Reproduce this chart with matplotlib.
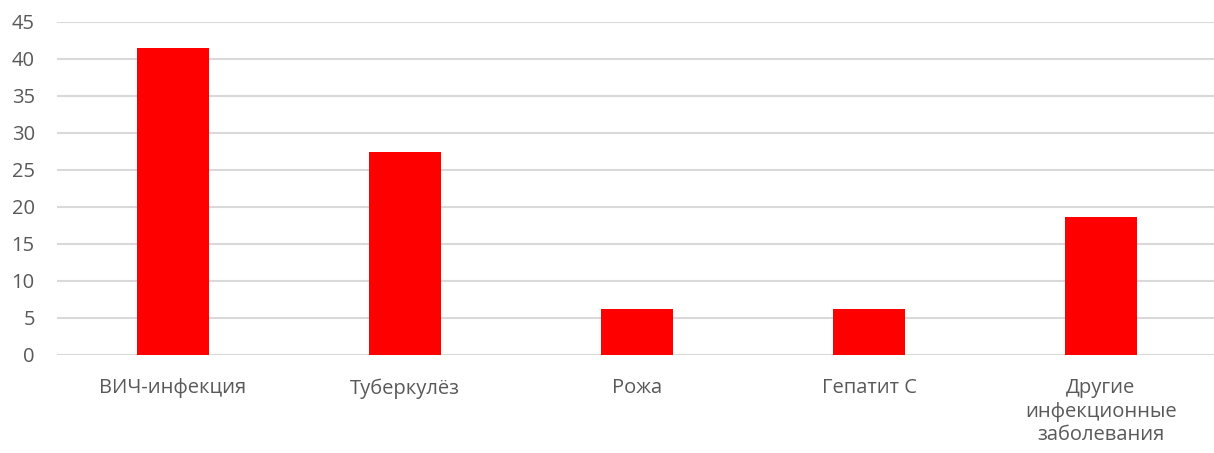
import matplotlib
matplotlib.use("Agg")
import matplotlib.pyplot as plt

categories = ["ВИЧ-инфекция", "Туберкулёз", "Рожа", "Гепатит С", "Другие\nинфекционные\nзаболевания"]
values = [41.5, 27.4, 6.2, 6.2, 18.6]
yticks = [0, 5, 10, 15, 20, 25, 30, 35, 40, 45]

plt.rcParams['font.family'] = ['Open Sans', 'DejaVu Sans']

fig = plt.figure(figsize=(12.14, 4.53), dpi=100)
ax = fig.add_axes([57/1214, 1 - 354.7/453, 1160/1214, (354.7 - 21.7)/453])

x = list(range(len(categories)))
ax.bar(x, values, width=0.313, color="#ff0000", zorder=3)
ax.set_xlim(-0.5, len(categories) - 0.5)
ax.set_ylim(0, 45)
ax.set_yticks(yticks)
ax.set_xticks(x)
ax.set_xticklabels(categories, linespacing=1.22)
ax.grid(axis="y", color="#d9d9d9", linewidth=1.5, zorder=0)
for s in ax.spines.values():
    s.set_visible(False)
ax.tick_params(axis="both", length=0, labelsize=14.5, labelcolor="#595959")
ax.tick_params(axis="x", pad=17)
ax.tick_params(axis="y", pad=16)

fig.savefig("out.png", dpi=100)
